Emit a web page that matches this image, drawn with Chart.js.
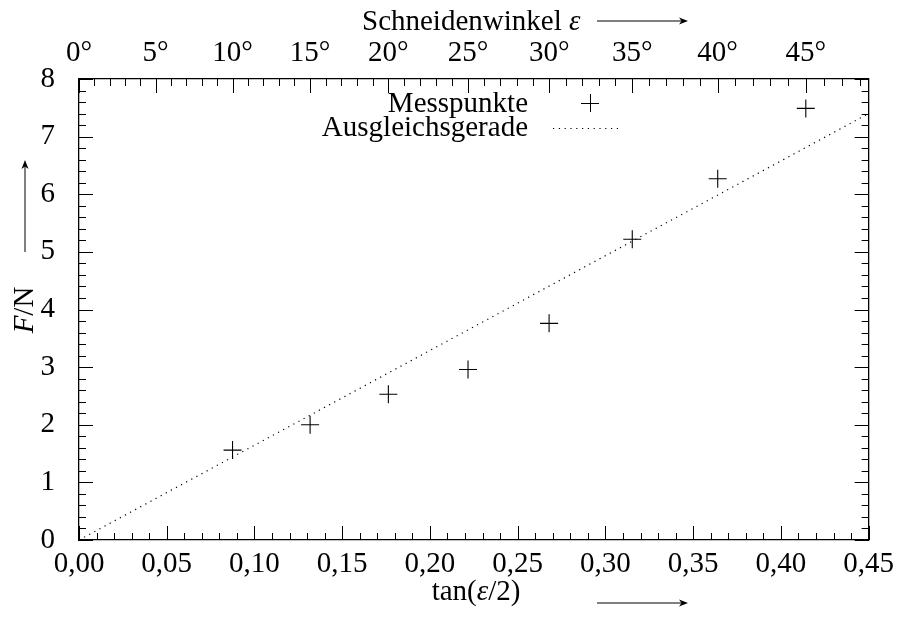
<!DOCTYPE html>
<html>
<head>
<meta charset="utf-8">
<script src="https://cdn.jsdelivr.net/npm/chart.js@4.4.1/dist/chart.umd.min.js"></script>
<style>
  html, body { margin: 0; padding: 0; background: #fff; }
  #wrap { width: 901px; height: 617px; }
</style>
</head>
<body>
<div id="wrap"><canvas id="chart" width="901" height="617"></canvas></div>
<script>
// measured points: x = tan(eps/2), y = F in N
const pointX = [0.0875, 0.1317, 0.1763, 0.2217, 0.2679, 0.3153, 0.3640, 0.4142];
const pointY = [1.56, 2.00, 2.53, 2.96, 3.76, 5.22, 6.27, 7.49];

// fitted line (Ausgleichsgerade)
const lineX = [0, 0.45];
const lineY = [0, 7.40];

// axis ticks
const bottomTicks = [0, 0.05, 0.10, 0.15, 0.20, 0.25, 0.30, 0.35, 0.40, 0.45];
const topAngles = [0, 5, 10, 15, 20, 25, 30, 35, 40, 45];
const yTicks = [0, 1, 2, 3, 4, 5, 6, 7, 8];

const FONT = '"Liberation Serif", "Times New Roman", serif';
const SIZE = 29;

const rad = d => d * Math.PI / 180;
const angleToX = a => Math.tan(rad(a / 2));

function inwardTicks(ctx, scale, side, values, majorFn) {
  const area = scale.chart.chartArea;
  ctx.save();
  ctx.strokeStyle = '#000';
  ctx.lineWidth = 1;
  ctx.beginPath();
  values.forEach((v, i) => {
    const len = majorFn(i) ? 14 : 7;
    const p = Math.round(scale.getPixelForValue(v)) + 0.5;
    if (side === 'bottom') { ctx.moveTo(p, area.bottom); ctx.lineTo(p, area.bottom - len); }
    if (side === 'top') { ctx.moveTo(p, area.top); ctx.lineTo(p, area.top + len); }
    if (side === 'left') { ctx.moveTo(area.left, p); ctx.lineTo(area.left + len, p); }
    if (side === 'right') { ctx.moveTo(area.right, p); ctx.lineTo(area.right - len, p); }
  });
  ctx.stroke();
  ctx.restore();
}

function arrow(ctx, x1, y1, x2, y2) {
  const ang = Math.atan2(y2 - y1, x2 - x1);
  ctx.save();
  ctx.strokeStyle = '#000';
  ctx.fillStyle = '#000';
  ctx.lineWidth = 1;
  ctx.beginPath();
  ctx.moveTo(x1, y1);
  ctx.lineTo(x2 - 5 * Math.cos(ang), y2 - 5 * Math.sin(ang));
  ctx.stroke();
  ctx.translate(x2, y2);
  ctx.rotate(ang);
  ctx.beginPath();
  ctx.moveTo(0, 0);
  ctx.lineTo(-9, -3.5);
  ctx.lineTo(-6.5, 0);
  ctx.lineTo(-9, 3.5);
  ctx.closePath();
  ctx.fill();
  ctx.restore();
}

// draw a list of [text, italic] pieces starting at x
function richText(ctx, parts, x, y) {
  parts.forEach(([t, it]) => {
    ctx.font = (it ? 'italic ' : '') + SIZE + 'px ' + FONT;
    ctx.fillText(t, x, y);
    x += ctx.measureText(t).width;
  });
  return x;
}
function richWidth(ctx, parts) {
  let w = 0;
  parts.forEach(([t, it]) => {
    ctx.font = (it ? 'italic ' : '') + SIZE + 'px ' + FONT;
    w += ctx.measureText(t).width;
  });
  return w;
}

const decorations = {
  id: 'decorations',
  afterDraw(chart) {
    const ctx = chart.ctx;
    const s = chart.scales;

    // minor + major ticks, all pointing inward
    const minorX = [];
    for (let i = 0; i <= 45; i++) minorX.push(i / 100);
    inwardTicks(ctx, s.x, 'bottom', minorX, i => i % 5 === 0);
    const minorDeg = [];
    for (let d = 0; d <= 48; d++) minorDeg.push(angleToX(d));
    inwardTicks(ctx, s.x2, 'top', minorDeg, i => i % 5 === 0);
    const minorY = [];
    for (let i = 0; i <= 40; i++) minorY.push(i / 5);
    inwardTicks(ctx, s.y, 'left', minorY, i => i % 5 === 0);
    inwardTicks(ctx, s.y2, 'right', minorY, i => i % 5 === 0);

    ctx.save();
    ctx.fillStyle = '#000';
    ctx.textBaseline = 'alphabetic';
    ctx.textAlign = 'left';

    // top axis title
    richText(ctx, [['Schneidenwinkel ', false], ['ε', true]], 362, 30);
    arrow(ctx, 597, 21, 688, 21);

    // bottom axis title
    const bParts = [['tan(', false], ['ε', true], ['/2)', false]];
    const bw = richWidth(ctx, bParts);
    richText(ctx, bParts, 476 - bw / 2, 600);
    arrow(ctx, 597, 603, 688, 603);

    // left axis title
    const lParts = [['F', true], ['/N', false]];
    const lw = richWidth(ctx, lParts);
    ctx.save();
    ctx.translate(33, 310);
    ctx.rotate(-Math.PI / 2);
    richText(ctx, lParts, -lw / 2, 0);
    ctx.restore();
    arrow(ctx, 25, 252, 25, 160);

    // legend inside the plot
    const ds = chart.data.datasets;
    ctx.font = SIZE + 'px ' + FONT;
    ctx.textAlign = 'right';
    ctx.textBaseline = 'middle';
    ctx.fillText(ds[0].label, 528, 104);
    ctx.fillText(ds[1].label, 528, 128);
    ctx.strokeStyle = '#000';
    ctx.lineWidth = 1;
    ctx.beginPath();
    ctx.moveTo(581, 103.5); ctx.lineTo(599, 103.5);
    ctx.moveTo(590.5, 94); ctx.lineTo(590.5, 112);
    ctx.stroke();
    ctx.setLineDash(ds[1].borderDash);
    ctx.lineWidth = ds[1].borderWidth;
    ctx.beginPath();
    ctx.moveTo(553, 128.5); ctx.lineTo(619, 128.5);
    ctx.stroke();
    ctx.restore();
  }
};

const tickFont = { family: FONT, size: SIZE };

new Chart(document.getElementById('chart'), {
  type: 'scatter',
  data: {
    datasets: [
      {
        label: 'Messpunkte',
        data: pointX.map((x, i) => ({ x, y: pointY[i] })),
        pointStyle: 'cross',
        pointRadius: 9,
        pointBorderWidth: 1.1,
        borderColor: '#000',
        backgroundColor: '#000',
        showLine: false
      },
      {
        label: 'Ausgleichsgerade',
        data: lineX.map((x, i) => ({ x, y: lineY[i] })),
        showLine: true,
        pointRadius: 0,
        borderColor: '#000',
        borderWidth: 1.2,
        borderDash: [1.2, 4.6],
        fill: false
      }
    ]
  },
  options: {
    responsive: false,
    animation: false,
    devicePixelRatio: 1,
    layout: { padding: 0 },
    plugins: {
      legend: { display: false },
      tooltip: { enabled: false }
    },
    scales: {
      x: {
        type: 'linear',
        position: 'bottom',
        min: 0,
        max: 0.45,
        afterBuildTicks: sc => { sc.ticks = bottomTicks.map(v => ({ value: v })); },
        afterFit: sc => { sc.height = 77; },
        grid: { display: false, drawTicks: false },
        border: { display: true, color: '#000', width: 1.3 },
        ticks: {
          color: '#000', font: tickFont, padding: 7,
          autoSkip: false, maxRotation: 0,
          callback: v => v.toFixed(2).replace('.', ',')
        }
      },
      x2: {
        type: 'linear',
        position: 'top',
        min: 0,
        max: 0.45,
        afterBuildTicks: sc => { sc.ticks = topAngles.map(a => ({ value: angleToX(a) })); },
        afterFit: sc => { sc.height = 79; },
        grid: { display: false, drawTicks: false },
        border: { display: true, color: '#000', width: 1.3 },
        ticks: {
          color: '#000', font: tickFont, padding: 8,
          autoSkip: false, maxRotation: 0,
          callback: (v, i) => topAngles[i] + '°'
        }
      },
      y: {
        type: 'linear',
        position: 'left',
        min: 0,
        max: 8,
        afterBuildTicks: sc => { sc.ticks = yTicks.map(v => ({ value: v })); },
        afterFit: sc => { sc.width = 79; },
        grid: { display: false, drawTicks: false },
        border: { display: true, color: '#000', width: 1.3 },
        ticks: { color: '#000', font: tickFont, padding: 24, autoSkip: false }
      },
      y2: {
        type: 'linear',
        position: 'right',
        min: 0,
        max: 8,
        afterFit: sc => { sc.width = 28; },
        grid: { display: false, drawTicks: false },
        border: { display: true, color: '#000', width: 1.3 },
        ticks: { display: false }
      }
    }
  },
  plugins: [decorations]
});
</script>
</body>
</html>
